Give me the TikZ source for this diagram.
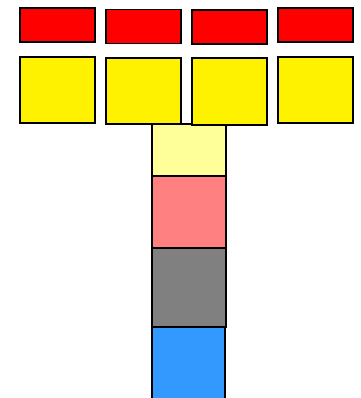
\documentclass[tikz,border=0pt]{standalone}
\begin{document}
\begin{tikzpicture}[x=1pt,y=-1pt,
  blk/.style={draw=black, line width=1.3pt, inner sep=0pt, outer sep=0pt, anchor=north west},
  redbox/.style={blk, fill=red, minimum width=75pt, minimum height=34pt},
  yelbox/.style={blk, fill=yellow, minimum width=75pt, minimum height=66pt},
  stackbox/.style={blk, minimum width=74pt}]
\useasboundingbox (0,0) rectangle (360,398);
% stack
\node[stackbox, fill={rgb,255:red,255;green,255;blue,153}, minimum height=52pt] (s1) at (152,124) {};
\node[stackbox, fill={rgb,255:red,255;green,128;blue,128}, minimum height=72pt] (s2) at (152,176) {};
\node[stackbox, fill={rgb,255:red,128;green,128;blue,128}, minimum height=79pt] (s3) at (152,248) {};
\node[stackbox, fill={rgb,255:red,51;green,153;blue,255}, minimum width=73pt, minimum height=80pt] (s4) at (152,327) {};
% red row
\node[redbox] (r1) at (20,8) {};
\node[redbox] (r2) at (106,9.5) {};
\node[redbox] (r3) at (192,10) {};
\node[redbox] (r4) at (278,8) {};
% yellow row
\node[yelbox] (y1) at (20,57) {};
\node[yelbox] (y2) at (106,58) {};
\node[yelbox, minimum height=67pt] (y3) at (192,58) {};
\node[yelbox] (y4) at (278,57) {};
\end{tikzpicture}
\end{document}
